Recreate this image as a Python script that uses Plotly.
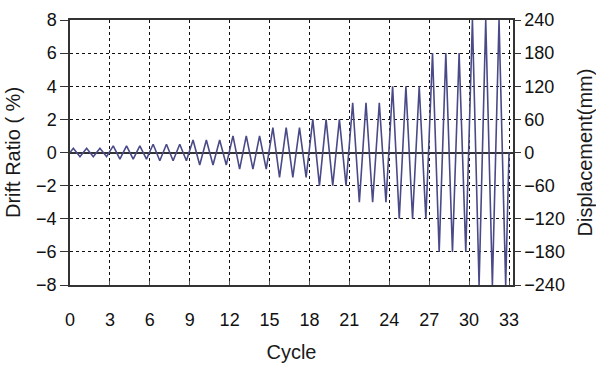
import plotly.graph_objects as go

# amplitude (% drift) of each 3-cycle group
group_start = [0, 3, 6, 9, 12, 15, 18, 21, 24, 27, 30]
amplitude = [0.25, 0.4, 0.5, 0.75, 1.0, 1.5, 2.0, 3.0, 4.0, 6.0, 8.0]
cycles_per_group = 3

x_ticks = [0, 3, 6, 9, 12, 15, 18, 21, 24, 27, 30, 33]
y_ticks = [-8, -6, -4, -2, 0, 2, 4, 6, 8]
disp_ticks = [-240, -180, -120, -60, 0, 60, 120, 180, 240]

# build triangle wave: +A at quarter cycle, -A at three quarters
xs, ys = [0], [0]
for start, amp in zip(group_start, amplitude):
    for k in range(cycles_per_group):
        n = start + k
        xs += [n + 0.25, n + 0.75]
        ys += [amp, -amp]
xs.append(33)
ys.append(0)

font = dict(family="Liberation Sans, Arial, sans-serif", size=17, color="#1a1a1a")
tick_font = dict(family="Liberation Sans, Arial, sans-serif", size=18, color="#111")

fig = go.Figure()
fig.add_trace(go.Scatter(x=xs, y=ys, mode="lines",
                         line=dict(color="#4a4a88", width=1.6),
                         showlegend=False, hoverinfo="skip"))
# dummy trace for the right axis
fig.add_trace(go.Scatter(x=[0], y=[0], yaxis="y2", mode="markers",
                         marker=dict(opacity=0), showlegend=False,
                         hoverinfo="skip"))

fig.update_layout(
    width=596, height=367,
    margin=dict(l=70, r=83, t=20, b=82),
    paper_bgcolor="white", plot_bgcolor="white",
    font=font,
    xaxis=dict(
        range=[0, 33.3], tickvals=x_ticks, tickfont=tick_font,
        showgrid=True, gridcolor="#111", griddash="dot", gridwidth=1.3,
        showline=True, linecolor="#333", linewidth=1.5, mirror=True,
        zeroline=False, ticks="inside", ticklen=4, tickcolor="#555",
        ticklabelstandoff=18, automargin=False,
        title=dict(text="Cycle", standoff=16),
    ),
    yaxis=dict(
        range=[-8, 8], tickvals=y_ticks, tickfont=tick_font,
        showgrid=True, gridcolor="#111", griddash="dot", gridwidth=1.3,
        showline=True, linecolor="#333", linewidth=1.5,
        zeroline=True, zerolinecolor="#333", zerolinewidth=1.5,
        ticks="outside", ticklen=8, tickcolor="#333", automargin=False,
        title=dict(text="Drift Ratio ( %)", standoff=10),
    ),
    yaxis2=dict(
        range=[-240, 240], tickvals=disp_ticks, overlaying="y", side="right",
        showgrid=False, zeroline=False, tickfont=tick_font,
        showline=True, linecolor="#333", linewidth=1.5,
        ticks="outside", ticklen=6, tickcolor="#333", automargin=False,
        title=dict(text="Displacement(mm)", standoff=18),
    ),
)

# drop the default page margin so the figure sits at the window corner
fig.write_html("out.html", config={"displayModeBar": False},
               post_script="document.body.style.margin='0';")
